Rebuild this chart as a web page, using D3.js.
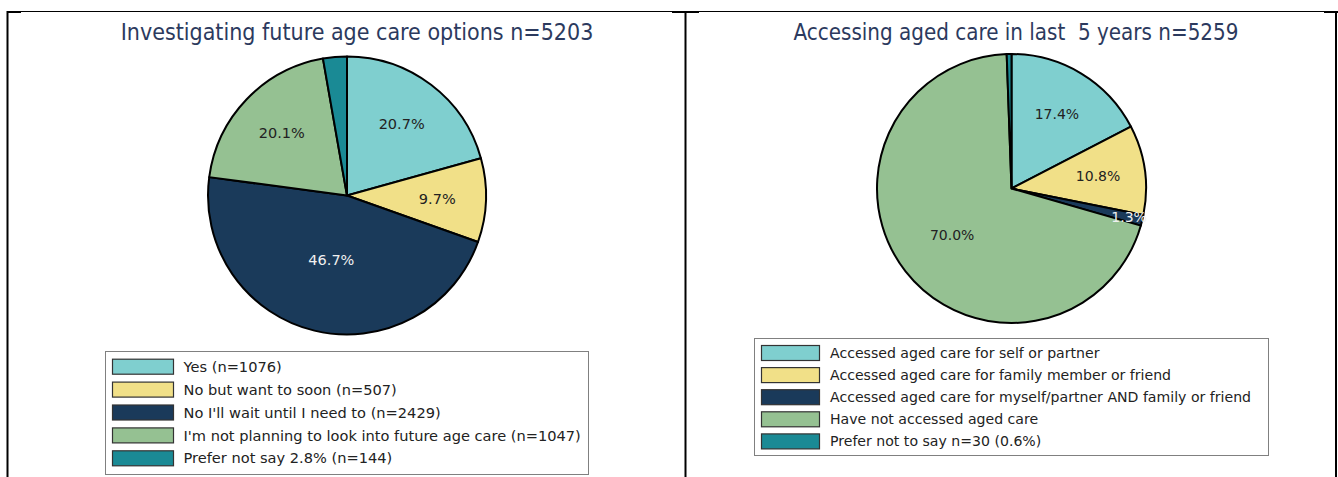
<!DOCTYPE html>
<html>
<head>
<meta charset="utf-8">
<script src="https://cdn.jsdelivr.net/npm/d3@7"></script>
<style>
  html, body { margin: 0; padding: 0; background: #fff; }
  svg { display: block; }
</style>
</head>
<body>
<script>
(function () {
  'use strict'

  // Left panel: investigating future age care options
  var leftTitle = 'Investigating future age care options n=5203'
  var leftCategories = [
    'Yes (n=1076)',
    'No but want to soon (n=507)',
    'No I\'ll wait until I need to (n=2429)',
    'I\'m not planning to look into future age care (n=1047)',
    'Prefer not say 2.8% (n=144)'
  ]
  var leftCounts = [1076, 507, 2429, 1047, 144]
  var leftPctLabels = ['20.7%', '9.7%', '46.7%', '20.1%', '']

  // Right panel: accessing aged care in last 5 years
  var rightTitle = 'Accessing aged care in last\u00a0 5 years n=5259'
  var rightCategories = [
    'Accessed aged care for self or partner',
    'Accessed aged care for family member or friend',
    'Accessed aged care for myself/partner AND family or friend',
    'Have not accessed aged care',
    'Prefer not to say n=30 (0.6%)'
  ]
  var rightCounts = [914, 567, 68, 3680, 30]
  var rightPctLabels = ['17.4%', '10.8%', '1.3%', '70.0%', '']

  var colors = ['#7fcfcf', '#f1e088', '#1a3a5a', '#95c192', '#1a8a95']
  var labelColors = ['#222', '#222', '#f0f0f0', '#222', '#222']

  var W = 1338
  var H = 477

  var svg = d3.select('body').append('svg')
    .attr('width', W)
    .attr('height', H)

  drawFrame(svg)

  drawPanel(svg, {
    title: leftTitle,
    categories: leftCategories,
    counts: leftCounts,
    pct: leftPctLabels
  }, {
    titleX: 357, titleY: 40, titleFont: 23,
    cx: 347, cy: 195.5, r: 139,
    pctFont: 14.5,
    // fraction of the radius where each percentage sits
    pctDist: [0.65, 0.65, 0.48, 0.65, 0.65],
    legend: { x: 105.5, y: 351.5, w: 483, h: 123, px: 112, pw: 61, ph: 15,
      row0: 366.7, step: 22.9, tx: 183.5, font: 14.6 }
  })

  drawPanel(svg, {
    title: rightTitle,
    categories: rightCategories,
    counts: rightCounts,
    pct: rightPctLabels
  }, {
    titleX: 1016, titleY: 40, titleFont: 22.2,
    cx: 1011.5, cy: 188.5, r: 134.5,
    pctFont: 14,
    pctDist: [0.65, 0.65, 0.9, 0.56, 0.65],
    legend: { x: 754.5, y: 338.5, w: 514, h: 117, px: 761, pw: 58, ph: 15,
      row0: 353, step: 22.1, tx: 830, font: 14.1 }
  })

  function drawFrame (svg) {
    var g = svg.append('g')
      .attr('stroke', '#000')
      .attr('fill', 'none')

    g.append('line').attr('x1', 7).attr('x2', 1337).attr('y1', 11.5).attr('y2', 11.5)
      .attr('stroke-width', 1)
    // heavier corner stubs where the cell borders meet
    ;[[7, 21], [672, 699], [1324, 1338]].forEach(function (s) {
      g.append('line').attr('x1', s[0]).attr('x2', s[1]).attr('y1', 12).attr('y2', 12)
        .attr('stroke-width', 2)
    })
    ;[7.5, 685.5, 1336].forEach(function (x) {
      g.append('line').attr('x1', x).attr('x2', x).attr('y1', 11).attr('y2', H)
        .attr('stroke-width', 2)
    })
  }

  function drawPanel (svg, data, opt) {
    svg.append('text')
      .attr('x', opt.titleX)
      .attr('y', opt.titleY)
      .attr('text-anchor', 'middle')
      .attr('font-family', '"DejaVu Sans Condensed", "DejaVu Sans", sans-serif')
      .attr('font-size', opt.titleFont)
      .attr('fill', '#2c3a5e')
      .text(data.title)

    var pie = d3.pie().sort(null).value(function (d) { return d })
    var arcs = pie(data.counts)

    var arc = d3.arc().innerRadius(0).outerRadius(opt.r)

    var g = svg.append('g')
      .attr('transform', 'translate(' + opt.cx + ',' + opt.cy + ')')

    g.selectAll('path.slice').data(arcs)
      .enter().append('path')
        .attr('class', 'slice')
        .attr('d', arc)
        .attr('fill', function (d, i) { return colors[i] })
        .attr('stroke', '#000')
        .attr('stroke-width', 2)
        .attr('stroke-linejoin', 'round')

    g.selectAll('text.pct').data(arcs)
      .enter().append('text')
        .attr('class', 'pct')
        .attr('transform', function (d, i) {
          var k = opt.pctDist[i]
          var la = d3.arc().innerRadius(opt.r * k).outerRadius(opt.r * k)
          return 'translate(' + la.centroid(d) + ')'
        })
        .attr('text-anchor', 'middle')
        .attr('dy', '0.35em')
        .attr('font-family', '"DejaVu Sans", sans-serif')
        .attr('font-size', opt.pctFont)
        .attr('fill', function (d, i) { return labelColors[i] })
        .text(function (d, i) { return data.pct[i] })

    var L = opt.legend
    var lg = svg.append('g').attr('class', 'legend')

    lg.append('rect')
      .attr('x', L.x).attr('y', L.y)
      .attr('width', L.w).attr('height', L.h)
      .attr('fill', '#fff')
      .attr('stroke', '#808080')
      .attr('stroke-width', 1)

    var rows = lg.selectAll('g.row').data(data.categories)
      .enter().append('g')
        .attr('class', 'row')
        .attr('transform', function (d, i) {
          return 'translate(0,' + (L.row0 + i * L.step) + ')'
        })

    rows.append('rect')
      .attr('x', L.px + 0.5)
      .attr('y', -L.ph / 2)
      .attr('width', L.pw)
      .attr('height', L.ph)
      .attr('fill', function (d, i) { return colors[i] })
      .attr('stroke', '#333')
      .attr('stroke-width', 1.2)

    rows.append('text')
      .attr('x', L.tx)
      .attr('dy', '0.35em')
      .attr('font-family', '"DejaVu Sans", sans-serif')
      .attr('font-size', L.font)
      .attr('fill', '#222')
      .text(function (d) { return d })
  }
}())
</script>
</body>
</html>
